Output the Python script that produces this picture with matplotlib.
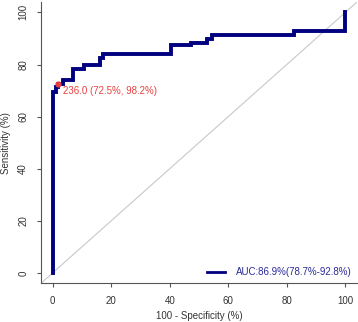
import matplotlib
matplotlib.use("Agg")
import matplotlib.pyplot as plt
from matplotlib.lines import Line2D

plt.rcParams["font.family"] = ["Liberation Sans", "DejaVu Sans"]

# ROC curve corners (100 - specificity, sensitivity), in %
fpr = [0, 0, 1.2, 1.2, 1.8, 1.8, 3.5, 3.5, 7.0, 7.0, 10.8, 10.8, 16.1, 16.1,
       17.2, 17.2, 40.5, 40.5, 47.3, 47.3, 52.7, 52.7, 54.3, 54.3, 82.4, 82.4,
       100, 100]
tpr = [0, 69.5, 69.5, 71.2, 71.2, 72.5, 72.5, 73.9, 73.9, 78.3, 78.3, 79.7,
       79.7, 82.6, 82.6, 84.1, 84.1, 87.3, 87.3, 88.3, 88.3, 89.8, 89.8, 91.3,
       91.3, 92.7, 92.7, 100]

# best threshold
thr_value = 236.0
thr_sens = 72.5
thr_spec = 98.2

auc_label = "AUC:86.9%(78.7%-92.8%)"
ticks = [0, 20, 40, 60, 80, 100]

fig = plt.figure(figsize=(3.58, 3.22), dpi=100)
ax = fig.add_axes([41 / 358, 1 - 283.3 / 322, 316 / 358, 281.3 / 322])

ax.axline((0, 0), (100, 100), color="#c8c8c8", lw=0.8, zorder=1)
ax.plot(fpr, tpr, color="#000080", lw=2.8, solid_joinstyle="miter", zorder=2)

thr_x = 100 - thr_spec
ax.plot([thr_x], [thr_sens], "o", color="#e8403f", ms=3.5, zorder=3)
ax.text(thr_x + 1.8, thr_sens - 2.7,
        f"{thr_value:.1f} ({thr_sens}%, {thr_spec}%)",
        color="#e8403f", fontsize=7, va="center", ha="left")

ax.set_xlim(-4, 104)
ax.set_ylim(-4, 104)
ax.set_xticks(ticks)
ax.set_yticks(ticks)
for side in ["top", "right"]:
    ax.spines[side].set_visible(False)
for side in ["left", "bottom"]:
    ax.spines[side].set_color("#555555")
    ax.spines[side].set_linewidth(0.8)
ax.tick_params(length=3.2, width=0.8, color="#555555", labelsize=7,
               labelcolor="#333333")
ax.tick_params(axis="x", pad=6)
ax.tick_params(axis="y", pad=6)
for lab in ax.get_yticklabels():
    lab.set_rotation(90)
    lab.set_va("center")

ax.set_xlabel("100 - Specificity (%)", fontsize=7, color="#333333", labelpad=3.5)
ax.set_ylabel("Sensitivity (%)", fontsize=7, color="#333333", labelpad=5)

handle = Line2D([], [], color="#000080", lw=2)
ax.legend([handle], [auc_label], loc="center right",
          bbox_to_anchor=(0.983, 1 - 272 / 322), bbox_transform=fig.transFigure,
          frameon=False, fontsize=7, labelcolor="#2a2a9a",
          handlelength=1.9, handletextpad=1.1, borderpad=0, borderaxespad=0)

fig.savefig("out.png", dpi=100)
